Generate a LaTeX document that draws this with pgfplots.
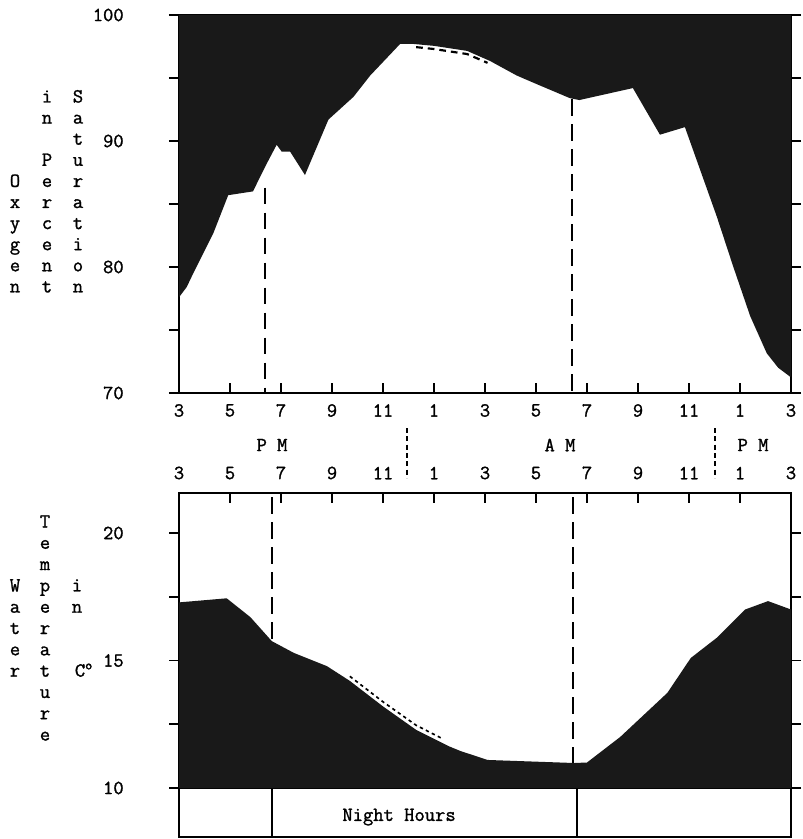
\documentclass[border=0pt]{standalone}
\usepackage{pgfplots}
\pgfplotsset{compat=1.18}
\usepackage{fontspec}
\setmainfont{Latin Modern Mono}[FakeBold=1.3]
\definecolor{ink}{gray}{0.10}
\begin{document}
\fontsize{12}{14}\selectfont\bfseries
\begin{tikzpicture}
\begin{scope}[x=0.6pt,y=-0.6pt]
\path[use as bounding box] (0,0) rectangle (801,839);
\end{scope}
\pgfplotsset{
  myaxis/.style={
    anchor=south west, scale only axis, width=367.2pt,
    xmin=15, xmax=39, clip=false,
    axis line style={line width=1.2pt},
    xtick={15,17,...,39},
    xticklabels={3,5,7,9,11,1,3,5,7,9,11,1,3},
    xtick align=inside, ytick align=outside,
    ytick pos=both,
    major tick length=6pt,
    tick style={line width=1pt, black},
    /pgf/number format/assume math mode=true,
    tick label style={font=\fontsize{12}{14}\selectfont\bfseries},
    yticklabel style={xshift=-23pt},
  }
}
% ---------------- Oxygen panel ----------------
\begin{axis}[myaxis,
  at={(107.4pt,-235.8pt)}, height=226.8pt,
  ymin=70, ymax=100,
  xtick pos=left,
  xticklabel style={yshift=-2.5pt},
  ytick={70,75,...,100}, yticklabels={70,,80,,90,,100},
]
\addplot[fill=ink, draw=none] coordinates {
(15,100)(15,77.6)(15.3,78.4)(15.56,79.5)(16.35,82.7)(16.93,85.7)(17.9,86.0)
(18.44,88.2)(18.83,89.7)(19.03,89.15)(19.36,89.15)(19.94,87.3)(20.86,91.7)
(21.84,93.5)(22.5,95.2)(23.67,97.7)(24.2,97.7)(25.0,97.55)(26.3,97.15)
(27.2,96.35)(28.24,95.2)(29.16,94.4)(30.33,93.4)(30.7,93.25)(32.8,94.2)
(33.86,90.5)(34.84,91.1)(36.09,84.0)(36.74,80.0)(37.4,76.1)(38.05,73.15)
(38.5,72.0)(38.96,71.3)(39,71.3)(39,100)
};
\addplot[black, line width=1.3pt, dash pattern=on 4pt off 3pt] coordinates {
(24.3,97.45)(25.0,97.3)(26.3,96.9)(27.1,96.2)};
\addplot[black, line width=1.2pt, dash pattern=on 10pt off 5pt] coordinates {(18.37,86.3)(18.37,70)};
\addplot[black, line width=1.2pt, dash pattern=on 10pt off 5pt] coordinates {(30.4,93.3)(30.4,70)};
\end{axis}
% ---------------- Temperature panel ----------------
\begin{axis}[myaxis,
  at={(107.4pt,-472.8pt)}, height=177pt,
  ymin=10, ymax=21.57,
  xtick pos=right, xticklabel pos=right,
  xticklabel style={yshift=4pt},
  ytick={10,12.5,15,17.5,20}, yticklabels={10,,15,,20},
]
\addplot[fill=ink, draw=none] coordinates {
(15,10)(15,17.28)(16.87,17.44)(17.8,16.7)(18.64,15.76)(19.5,15.3)(20.8,14.78)
(21.7,14.2)(23.0,13.2)(24.3,12.28)(25.6,11.63)(26.04,11.45)(27.1,11.1)
(30.5,10.98)(31.0,11.0)(32.3,12.0)(34.15,13.73)(35.07,15.1)(36.1,15.9)
(37.2,17.0)(38.1,17.33)(39,17.0)(39,10)
};
\addplot[black, line width=1pt, dash pattern=on 2pt off 2pt] coordinates {
(21.7,14.38)(23.0,13.38)(24.3,12.46)(25.3,11.95)};
\addplot[black, line width=1.2pt, dash pattern=on 10pt off 5pt] coordinates {(18.65,21.4)(18.65,15.76)};
\addplot[black, line width=1.2pt, dash pattern=on 10pt off 5pt] coordinates {(30.45,21.4)(30.45,11.0)};
% night hours band
\draw[line width=1.2pt] (axis cs:15,10) -- (axis cs:15,8.08) -- (axis cs:39,8.08) -- (axis cs:39,10);
\draw[line width=1.2pt] (axis cs:18.65,10) -- (axis cs:18.65,8.08);
\draw[line width=1.2pt] (axis cs:30.6,10) -- (axis cs:30.6,8.08);
\node at (axis cs:23.63,8.86) {Night Hours};
\end{axis}
% ---------------- texts ----------------
\begin{scope}[x=0.6pt,y=-0.6pt]
\foreach \c [count=\i from 0] in {O,x,y,g,e,n}
  \node[anchor=base, inner sep=0pt] at (15,{144.7+(\i+2)*21.1}) {\c};
\foreach \c [count=\i from 0] in {i,n}
  \node[anchor=base, inner sep=0pt] at (47,{102.5+\i*21.1}) {\c};
\foreach \c [count=\i from 0] in {P,e,r,c,e,n,t}
  \node[anchor=base, inner sep=0pt] at (47,{102.5+(\i+3)*21.1}) {\c};
\foreach \c [count=\i from 0] in {S,a,t,u,r,a,t,i,o,n}
  \node[anchor=base, inner sep=0pt] at (78,{102.5+\i*21.1}) {\c};
\foreach \c [count=\i from 0] in {W,a,t,e,r}
  \node[anchor=base, inner sep=0pt] at (15,{527.5+(\i+3)*21.3}) {\c};
\foreach \c [count=\i from 0] in {T,e,m,p,e,r,a,t,u,r,e}
  \node[anchor=base, inner sep=0pt] at (45,{527.5+\i*21.3}) {\c};
\foreach \c [count=\i from 0] in {i,n}
  \node[anchor=base, inner sep=0pt] at (77,{527.5+(\i+3)*21.3}) {\c};
\node[anchor=base, inner sep=0pt] at (84,{527.5+7*21.3}) {C\textsuperscript{o}};
\node at (272,445) {P M};
\node at (560,445) {A M};
\node at (753,445) {P M};
\draw[line width=1pt, dash pattern=on 3pt off 2pt] (407,428) -- (407,478);
\draw[line width=1pt, dash pattern=on 3pt off 2pt] (715,428) -- (715,478);
\end{scope}
\end{tikzpicture}
\end{document}
